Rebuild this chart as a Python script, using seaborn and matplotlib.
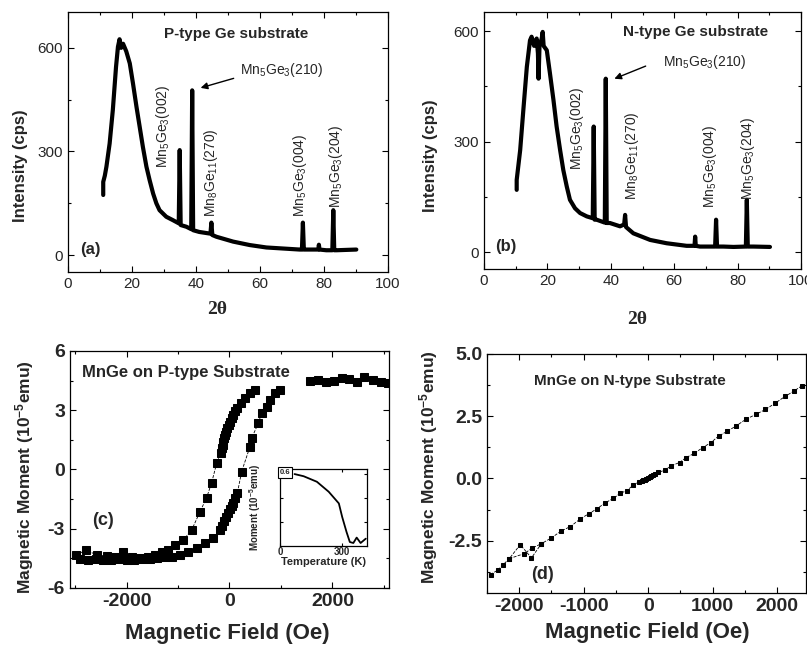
import matplotlib
matplotlib.use("Agg")
import matplotlib.pyplot as plt
from matplotlib.ticker import MultipleLocator
import seaborn as sns

sns.set_theme(style="ticks")
plt.rcParams['font.family'] = ['Liberation Sans', 'DejaVu Sans']
plt.rcParams['mathtext.default'] = 'regular'
plt.rcParams['axes.unicode_minus'] = False

# XRD, P-type substrate (2theta, cps)
xrd_p_x = [11.0, 11.0, 11.5, 12.0, 13.0, 14.0, 15.0, 15.6, 16.1, 16.6, 17.2, 18.2, 19.3, 20.3,
           21.4, 22.4, 23.4, 24.5, 25.5, 26.6, 27.6, 28.6, 30.7, 32.8, 34.6, 34.9, 35.2, 37.0,
           38.5, 38.8, 39.1, 41.0, 44.5, 44.8, 45.1, 46.4, 51.6, 56.8, 62.0, 67.2, 72.4, 73.1,
           73.4, 73.7, 74.5, 78.2, 78.4, 78.6, 80.7, 82.6, 82.9, 83.2, 83.9, 90.1]
xrd_p_y = [174, 212, 230, 256, 323, 420, 545, 603, 625, 600, 612, 590, 555, 497,
           429, 371, 313, 256, 217, 178, 150, 130, 111, 101, 92, 304, 87, 82,
           75, 477, 72, 67, 62, 94, 58, 53, 39, 29, 22, 19, 16, 16,
           94, 16, 16, 16, 30, 16, 14, 14, 130, 14, 14, 16]

# XRD, N-type substrate
xrd_n_x = [10.3, 10.3, 11.4, 12.4, 13.5, 14.5, 15.0, 15.8, 16.6, 17.0, 17.2, 17.5, 18.2, 18.5,
           18.8, 19.8, 20.8, 21.9, 22.9, 24.0, 25.0, 26.1, 27.1, 28.7, 30.3, 32.4, 34.3, 34.6,
           34.9, 35.5, 38.1, 38.4, 38.7, 39.7, 42.9, 44.2, 44.5, 44.8, 47.1, 52.4, 57.6, 63.9,
           66.4, 66.6, 66.8, 68.1, 72.9, 73.2, 73.5, 75.5, 78.7, 82.6, 82.9, 83.2, 85.0, 90.2]
xrd_n_y = [169, 196, 277, 386, 503, 575, 585, 560, 580, 540, 471, 560, 580, 598,
           560, 548, 485, 413, 341, 277, 223, 178, 142, 119, 106, 97, 92, 341,
           88, 88, 80, 471, 79, 79, 70, 75, 101, 68, 51, 33, 24, 17,
           17, 42, 17, 15, 15, 88, 15, 15, 14, 15, 142, 15, 15, 14]

peak_labels = ['Mn$_5$Ge$_3$(002)', 'Mn$_8$Ge$_{11}$(270)', 'Mn$_5$Ge$_3$(004)', 'Mn$_5$Ge$_3$(204)']
arrow_label = 'Mn$_5$Ge$_3$(210)'

# hysteresis loop, P-type (Oe, 1e-5 emu)
loop_up_x = [495, 398, 301, 217, 139, 110, 74, 40, 10, -15, -42, -65, -87, -105, -120, -135, -150,
             -171, -249, -346, -443, -573, -734, -897, -1058, -1188, -1317, -1447, -1577, -1738,
             -1899, -2062, -2223, -2385, -2579, -2786, -2981]
loop_up_y = [4.03, 3.86, 3.6, 3.38, 3.1, 2.95, 2.76, 2.6, 2.42, 2.25, 2.08, 1.9, 1.75, 1.6, 1.41, 1.25, 1.1,
             0.82, 0.31, -0.66, -1.42, -2.14, -3.06, -3.57, -3.82, -4.08, -4.16, -4.33, -4.41, -4.46,
             -4.41, -4.19, -4.41, -4.38, -4.33, -4.08, -4.33]
loop_dn_x = [-2900, -2750, -2600, -2450, -2300, -2150, -2000, -1850, -1700, -1550, -1400, -1250,
             -1123, -961, -800, -637, -476, -314, -184, -140, -100, -60, -20, 20, 50, 74, 110,
             152, 236, 398, 430, 560, 625, 722, 786, 883, 981]
loop_dn_y = [-4.55, -4.6, -4.55, -4.6, -4.6, -4.55, -4.6, -4.6, -4.55, -4.55, -4.5, -4.45,
             -4.41, -4.33, -4.16, -3.99, -3.74, -3.48, -3.06, -2.85, -2.6, -2.4, -2.2, -2.0, -1.85, -1.71, -1.45,
             -1.21, -0.11, 1.15, 1.58, 2.34, 2.85, 3.18, 3.52, 3.86, 4.03]
sat_x = [1560, 1720, 1880, 2030, 2180, 2330, 2480, 2620, 2780, 2950, 3080]
sat_y = [4.5, 4.55, 4.45, 4.5, 4.65, 4.6, 4.45, 4.7, 4.55, 4.45, 4.4]

# inset: moment vs temperature
temp_k = [70, 114, 178, 235, 284, 300, 321, 337, 354, 370, 389, 414]
moment_t = [0.598, 0.58, 0.534, 0.451, 0.354, 0.242, 0.117, 0.033, 0.025, 0.07, 0.025, 0.061]

# N-type, linear response
lin_x = [-2446, -2333, -2256, -2154, -1985, -1810, -1656, -1503, -1349, -1205, -1051, -923, -795,
         -667, -538, -436, -333, -231, -138, -100, -77, -50, -26, 0, 26, 50, 77, 110, 154, 256,
         359, 487, 590, 718, 846, 974, 1092, 1231, 1359, 1513, 1667, 1821, 1974, 2128, 2256, 2385]
lin_y = [-3.86, -3.68, -3.48, -3.22, -2.66, -3.19, -2.62, -2.39, -2.11, -1.93, -1.62, -1.42, -1.22,
         -0.98, -0.80, -0.60, -0.49, -0.27, -0.13, -0.10, -0.07, -0.05, -0.03, 0.0, 0.07, 0.10, 0.15,
         0.19, 0.24, 0.33, 0.51, 0.64, 0.84, 1.01, 1.24, 1.44, 1.70, 1.90, 2.10, 2.37, 2.57, 2.77,
         3.03, 3.30, 3.50, 3.72]
lin_b_x = [-2154, -1923, -1795, -1656]
lin_b_y = [-3.22, -3.02, -2.79, -2.62]

fig = plt.figure(figsize=(8.07, 6.47), dpi=100)
ax_a = fig.add_axes([0.0843, 0.5796, 0.3965, 0.4019])
ax_b = fig.add_axes([0.5998, 0.5842, 0.3928, 0.3972])
ax_c = fig.add_axes([0.0867, 0.0912, 0.3953, 0.3663])
ax_d = fig.add_axes([0.6035, 0.0835, 0.3953, 0.3694])
ax_in = fig.add_axes([0.347, 0.1561, 0.1078, 0.119])


def style_axes(ax, size, weight):
    for s in ax.spines.values():
        s.set_linewidth(0.9)
        s.set_color('black')
    ax.tick_params(which='both', direction='in', top=True, right=True, color='black',
                   labelsize=size, width=0.8)
    ax.tick_params(which='major', length=4)
    ax.tick_params(which='minor', length=2.5)
    for lab in ax.get_xticklabels() + ax.get_yticklabels():
        lab.set_fontweight(weight)


# XRD panels
for ax, xs, ys, ylim, title, tag, pk, arr in [
        (ax_a, xrd_p_x, xrd_p_y, (-49, 704), 'P-type Ge substrate', '(a)',
         [(29.7, 251), (44.8, 111), (72.4, 111), (83.9, 135)], ((53.6, 535), (52.6, 514), (40.6, 482))),
        (ax_b, xrd_n_x, xrd_n_y, (-46, 652), 'N-type Ge substrate', '(b)',
         [(29.2, 223), (46.6, 142), (71.3, 119), (83.4, 142)], ((56.6, 517), (51.8, 508), (40.3, 468)))]:
    sns.lineplot(x=xs, y=ys, sort=False, estimator=None, color='black', linewidth=3.0, ax=ax)
    ax.set_xlim(0, 100)
    ax.set_ylim(*ylim)
    ax.xaxis.set_major_locator(MultipleLocator(20))
    ax.xaxis.set_minor_locator(MultipleLocator(10))
    ax.yaxis.set_major_locator(MultipleLocator(300))
    ax.yaxis.set_minor_locator(MultipleLocator(150))
    style_axes(ax, 11, 'normal')
    ax.set_xlabel('2θ', fontfamily='Liberation Serif', fontweight='bold', fontsize=14)
    ax.set_ylabel('Intensity (cps)', fontweight='bold', fontsize=12)
    ax.xaxis.label.set_va('center')
    ax.yaxis.label.set_va('center')
    tx = 52.6 if tag == '(a)' else 66.6
    ty = 641 if tag == '(a)' else 598
    ax.text(tx, ty, title, ha='center', va='center', fontweight='bold', fontsize=11)
    ax.text(7.0, 15, tag, ha='center', va='center', fontweight='bold', fontsize=12)
    for (px, py), lab in zip(pk, peak_labels):
        ax.text(px, py, lab, rotation=90, ha='center', va='bottom', fontsize=10)
    ax.text(arr[0][0], arr[0][1], arrow_label, ha='left', va='center', fontsize=10)
    ax.annotate('', xy=arr[2], xytext=arr[1],
                arrowprops=dict(arrowstyle='-|>', color='black', lw=1, mutation_scale=10))

ax_a.xaxis.set_label_coords(0.466, -0.146)
ax_a.yaxis.set_label_coords(-0.15, 0.41)
ax_b.xaxis.set_label_coords(0.483, -0.198)
ax_b.yaxis.set_label_coords(-0.17, 0.44)

# hysteresis panel
mk = dict(sort=False, estimator=None, color='black', marker='s', markersize=5.3,
          markeredgecolor='black', linestyle='--', linewidth=0.6)
sns.lineplot(x=loop_up_x, y=loop_up_y, ax=ax_c, **mk)
sns.lineplot(x=loop_dn_x, y=loop_dn_y, ax=ax_c, **mk)
sns.lineplot(x=sat_x, y=sat_y, ax=ax_c, **mk)
ax_c.set_xlim(-3100, 3100)
ax_c.set_ylim(-6, 6)
ax_c.xaxis.set_major_locator(MultipleLocator(2000))
ax_c.xaxis.set_minor_locator(MultipleLocator(1000))
ax_c.yaxis.set_major_locator(MultipleLocator(3))
ax_c.yaxis.set_minor_locator(MultipleLocator(1.5))
style_axes(ax_c, 14, 'bold')
ax_c.text(-839, 4.89, 'MnGe on P-type Substrate', ha='center', va='center', fontweight='bold', fontsize=12)
ax_c.text(-2452, -2.6, '(c)', ha='center', va='center', fontweight='bold', fontsize=13)

# inset
sns.lineplot(x=temp_k, y=moment_t, sort=False, estimator=None, color='black', linewidth=1.3, ax=ax_in)
ax_in.set_xlim(0, 420)
ax_in.set_ylim(0, 0.64)
ax_in.set_xticks([0, 300])
ax_in.set_yticks([0.2, 0.4, 0.6])
ax_in.set_yticklabels([])
style_axes(ax_in, 7, 'bold')
ax_in.tick_params(which='both', length=2, pad=1)
ax_in.set_xlabel('Temperature (K)', fontweight='bold', fontsize=8, labelpad=0)
ax_in.set_ylabel('Moment (10$^{-5}$emu)', fontweight='bold', fontsize=7, labelpad=1)
ax_in.yaxis.set_label_coords(-0.2, 0.5)
ax_in.text(0.06, 0.95, '0.6', transform=ax_in.transAxes, ha='center', va='center', fontsize=5.5,
           fontweight='bold', bbox=dict(boxstyle='square,pad=0.25', fc='white', ec='black', lw=0.8))

# linear panel
mk_d = dict(sort=False, estimator=None, color='black', marker='s', markersize=3.5,
            markeredgecolor='black', linestyle='--', linewidth=0.6)
sns.lineplot(x=lin_x, y=lin_y, ax=ax_d, **mk_d)
sns.lineplot(x=lin_b_x, y=lin_b_y, ax=ax_d, **mk_d)
ax_d.set_xlim(-2500, 2450)
ax_d.set_ylim(-4.6, 5.0)
ax_d.xaxis.set_major_locator(MultipleLocator(1000))
ax_d.xaxis.set_minor_locator(MultipleLocator(500))
ax_d.yaxis.set_major_locator(MultipleLocator(2.5))
ax_d.yaxis.set_minor_locator(MultipleLocator(1.25))
style_axes(ax_d, 14, 'bold')
ax_d.set_yticks([-2.5, 0.0, 2.5, 5.0])
ax_d.set_yticklabels(['-2.5', '0.0', '2.5', '5.0'], fontweight='bold')
ax_d.set_xticks([-2000, -1000, 0, 1000, 2000])
ax_d.set_xticklabels(['-2000', '-1000', '0', '1000', '2000'], fontweight='bold')
ax_d.text(-282, 3.9, 'MnGe on N-type Substrate', ha='center', va='center', fontweight='bold', fontsize=11)
ax_d.text(-1641, -3.86, '(d)', ha='center', va='center', fontweight='bold', fontsize=13)

for ax, xc, yc in [(ax_c, (0.492, -0.19), (-0.141, 0.468)), (ax_d, (0.503, -0.167), (-0.184, 0.527))]:
    ax.set_xlabel('Magnetic Field (Oe)', fontweight='bold', fontsize=16)
    ax.set_ylabel('Magnetic Moment (10$^{-5}$emu)', fontweight='bold', fontsize=12.5)
    ax.xaxis.label.set_va('center')
    ax.yaxis.label.set_va('center')
    ax.xaxis.set_label_coords(*xc)
    ax.yaxis.set_label_coords(*yc)

fig.savefig('out.png', dpi=100)
